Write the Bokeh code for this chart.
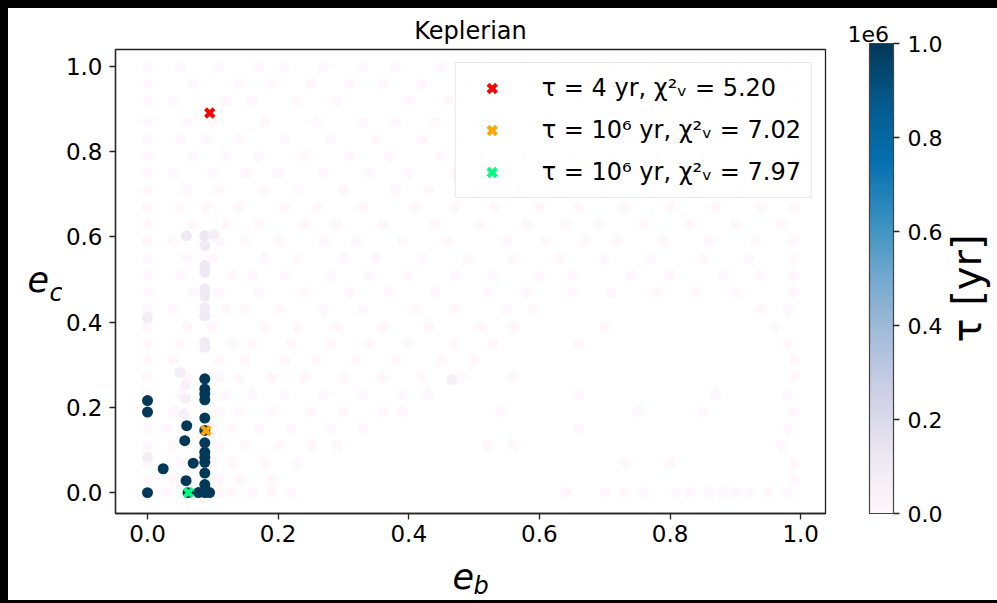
import numpy as np
from bokeh.plotting import figure
from bokeh.models import (LinearColorMapper, ColorBar, FixedTicker, CustomJSTickFormatter,
                          Legend, LegendItem, Range1d, NumeralTickFormatter, ColumnDataSource)
from bokeh.layouts import row, column
from bokeh.transform import transform
from bokeh.core.properties import value
from bokeh.embed import file_html
from bokeh.resources import INLINE

FONT = "DejaVu Sans"

# ---------------- data ----------------
# faint (tau ~ few yr) cloud: rows of e_c with the e_b positions seen on that row
bg_rows = [
    (1.00, [0.0, 0.05, 0.11, 0.17, 0.21, 0.27, 0.33, 0.38, 0.45, 0.52, 0.58, 0.63, 0.71, 0.77, 0.84, 0.91, 0.98]),
    (0.96, [0.0, 0.07, 0.14, 0.19, 0.25, 0.31, 0.36, 0.42, 0.49, 0.55, 0.61, 0.68, 0.74, 0.81, 0.88, 0.95, 0.99]),
    (0.92, [0.0, 0.04, 0.12, 0.16, 0.23, 0.29, 0.40, 0.46, 0.53, 0.57, 0.66, 0.72, 0.79, 0.86, 0.93, 0.99]),
    (0.87, [0.0, 0.06, 0.10, 0.18, 0.26, 0.33, 0.38, 0.44, 0.50, 0.59, 0.64, 0.70, 0.77, 0.83, 0.90, 0.97]),
    (0.83, [0.0, 0.05, 0.09, 0.14, 0.21, 0.28, 0.35, 0.42, 0.48, 0.55, 0.62, 0.68, 0.74, 0.81, 0.88, 0.94, 0.99]),
    (0.79, [0.0, 0.07, 0.12, 0.17, 0.24, 0.31, 0.37, 0.45, 0.51, 0.58, 0.65, 0.71, 0.78, 0.85, 0.92, 0.99]),
    (0.75, [0.0, 0.04, 0.10, 0.15, 0.20, 0.27, 0.34, 0.40, 0.47, 0.54, 0.60, 0.67, 0.75, 0.82, 0.89, 0.96]),
    (0.71, [0.0, 0.06, 0.11, 0.18, 0.23, 0.30, 0.38, 0.43, 0.50, 0.57, 0.63, 0.70, 0.77, 0.84, 0.91, 0.99]),
    (0.67, [0.0, 0.05, 0.09, 0.14, 0.21, 0.26, 0.33, 0.41, 0.47, 0.53, 0.60, 0.66, 0.73, 0.80, 0.87, 0.94, 0.99]),
    (0.63, [0.0, 0.07, 0.12, 0.17, 0.24, 0.29, 0.36, 0.44, 0.51, 0.58, 0.64, 0.69, 0.76, 0.83, 0.90, 0.97]),
    (0.59, [0.0, 0.04, 0.11, 0.15, 0.20, 0.27, 0.32, 0.39, 0.46, 0.55, 0.61, 0.67, 0.72, 0.79, 0.86, 0.93, 0.99]),
    (0.55, [0.0, 0.06, 0.10, 0.18, 0.23, 0.30, 0.35, 0.42, 0.49, 0.56, 0.63, 0.70, 0.77, 0.85, 0.92, 0.99]),
    (0.51, [0.0, 0.05, 0.13, 0.16, 0.21, 0.28, 0.34, 0.40, 0.47, 0.53, 0.60, 0.65, 0.74, 0.80, 0.88, 0.94, 0.99]),
    (0.47, [0.0, 0.07, 0.11, 0.17, 0.24, 0.31, 0.37, 0.44, 0.52, 0.58, 0.65, 0.71, 0.78, 0.84, 0.90, 0.99]),
    (0.43, [0.0, 0.04, 0.12, 0.15, 0.20, 0.27, 0.33, 0.41, 0.47, 0.55, 0.59, 0.94, 0.98]),
    (0.39, [0.0, 0.06, 0.10, 0.18, 0.23, 0.29, 0.36, 0.43, 0.51, 0.56, 0.70, 0.96]),
    (0.35, [0.0, 0.05, 0.13, 0.16, 0.22, 0.28, 0.34, 0.40, 0.47, 0.53, 0.66, 0.98]),
    (0.31, [0.0, 0.04, 0.11, 0.15, 0.21, 0.26, 0.32, 0.38, 0.45, 0.50, 0.99]),
    (0.27, [0.0, 0.06, 0.11, 0.14, 0.19, 0.24, 0.30, 0.36, 0.42, 0.48, 0.56, 0.99]),
    (0.23, [0.0, 0.05, 0.12, 0.16, 0.21, 0.27, 0.33, 0.39, 0.43, 0.66, 0.87, 0.98]),
    (0.19, [0.0, 0.04, 0.11, 0.14, 0.19, 0.25, 0.30, 0.36, 0.39, 0.54, 0.75, 0.85, 0.99]),
    (0.15, [0.0, 0.03, 0.10, 0.13, 0.17, 0.22, 0.28, 0.33, 0.66, 0.98]),
    (0.11, [0.0, 0.04, 0.11, 0.15, 0.20, 0.25, 0.29, 0.52, 0.56, 0.97]),
    (0.07, [0.0, 0.05, 0.10, 0.13, 0.18, 0.23, 0.73, 0.80, 0.99]),
    (0.03, [0.0, 0.04, 0.11, 0.14, 0.19, 0.99]),
    (0.00, [0.0, 0.03, 0.11, 0.13, 0.16, 0.19, 0.22, 0.64, 0.70, 0.73, 0.76, 0.81, 0.83, 0.86,
            0.88, 0.90, 0.92, 0.95, 0.98]),
]
BG_TAU = 50.0

# intermediate tau (lavender) points
mid_eb = [0.0877, 0.0877, 0.0877, 0.0877, 0.0877, 0.0877, 0.0877, 0.0877, 0.0877, 0.0877,
          0.0596, 0.101, 0.050, 0.058, 0.058, 0.056, 0.0, 0.0, 0.466]
mid_ec = [0.603, 0.580, 0.533, 0.517, 0.478, 0.462, 0.435, 0.415, 0.353, 0.341,
          0.603, 0.606, 0.282, 0.251, 0.221, 0.185, 0.083, 0.411, 0.265]
mid_tau = [1.2e5, 1.0e5, 1.2e5, 1.2e5, 1.1e5, 1.1e5, 0.9e5, 1.0e5, 0.9e5, 0.9e5,
           1.0e5, 0.6e5, 0.8e5, 0.5e5, 0.6e5, 0.6e5, 0.7e5, 0.8e5, 0.6e5]

# tau = 1e6 yr (dark) points
dark_eb = [0.0, 0.0, 0.0, 0.024, 0.060, 0.057, 0.070, 0.059, 0.062, 0.078,
           0.0877, 0.0877, 0.0877, 0.0877, 0.0877, 0.0877, 0.0877, 0.0877, 0.0877,
           0.0877, 0.0877, 0.0877, 0.0877, 0.095]
dark_ec = [0.216, 0.189, 0.0, 0.056, 0.157, 0.122, 0.069, 0.028, 0.0, 0.0,
           0.267, 0.243, 0.232, 0.218, 0.175, 0.146, 0.117, 0.095, 0.083,
           0.071, 0.046, 0.019, 0.0, 0.0]
dark_tau = [1.0e6] * len(dark_eb)

# best-fit markers
best_eb = [0.0953, 0.0897, 0.0627]
best_ec = [0.891, 0.1455, 0.0]
best_colors = ["#ff0000", "#ffa500", "#00ff7f"]
best_labels = ["τ = 4 yr, χ²ᵥ = 5.20",
               "τ = 10⁶ yr, χ²ᵥ = 7.02",
               "τ = 10⁶ yr, χ²ᵥ = 7.97"]

axis_ticks = [0.0, 0.2, 0.4, 0.6, 0.8, 1.0]
cbar_ticks = [0.0, 2e5, 4e5, 6e5, 8e5, 1e6]

title_text = "Keplerian"
x_label, x_sub = "e", "b"
y_label, y_sub = "e", "c"
cbar_label = "τ [yr]"
cbar_offset_text = "1e6"

# ---------------- build ----------------
bg_eb, bg_ec = [], []
for ec, xs in bg_rows:
    for eb in xs:
        bg_eb.append(eb)
        bg_ec.append(ec)
bg_tau = [BG_TAU] * len(bg_eb)

src = ColumnDataSource(dict(eb=bg_eb + mid_eb + dark_eb,
                            ec=bg_ec + mid_ec + dark_ec,
                            tau=bg_tau + mid_tau + dark_tau))

PUBU = ["#fff7fb", "#ece7f2", "#d0d1e6", "#a6bddb", "#74a9cf",
        "#3690c0", "#0570b0", "#045a8d", "#023858"]


def make_palette(stops, n=256):
    rgb = np.array([[int(c[i:i + 2], 16) for i in (1, 3, 5)] for c in stops], float)
    pos = np.linspace(0, 1, len(stops))
    out = []
    for t in np.linspace(0, 1, n):
        r, g, b = (int(round(np.interp(t, pos, rgb[:, k]))) for k in range(3))
        out.append("#%02x%02x%02x" % (r, g, b))
    return out


mapper = LinearColorMapper(palette=make_palette(PUBU), low=0, high=1e6)

TOP_H = 546   # height of the upper row (page y 8..554)
TOP_BOTTOM = 8 + TOP_H


def blank(width, height, xr, yr):
    f = figure(width=width, height=height, output_backend="svg", toolbar_location=None,
               x_range=Range1d(*xr), y_range=Range1d(*yr),
               x_axis_location=None, y_axis_location=None, frame_align=False,
               min_border_left=0, min_border_right=0, min_border_top=0, min_border_bottom=0)
    f.grid.visible = False
    f.outline_line_color = None
    f.background_fill_color = "white"
    f.border_fill_color = "white"
    return f


def add_text(f, x, y, txt, size, style="normal", angle=0.0, align="left"):
    f.text(x=[x], y=[y], text=[txt], text_font=value(FONT), text_font_size=value(size),
           text_font_style=style, text_color="black", angle=angle,
           text_align=align, text_baseline="middle")


# ---- main scatter panel ----
p = figure(width=783, height=TOP_H, output_backend="svg", toolbar_location=None,
           x_range=Range1d(-0.049, 1.038), y_range=Range1d(-0.049, 1.040),
           min_border_left=52, min_border_right=20, min_border_top=41, min_border_bottom=41,
           frame_align=False, title=title_text)
p.title.text_font = FONT
p.title.text_font_size = "24px"
p.title.text_font_style = "normal"
p.title.align = "center"
p.title.text_color = "black"
p.title.standoff = 10
p.grid.visible = False
p.outline_line_color = "#222222"
p.outline_line_width = 1.3
p.background_fill_color = "white"
p.border_fill_color = "white"

for ax in (p.xaxis[0], p.yaxis[0]):
    ax.ticker = FixedTicker(ticks=axis_ticks)
    ax.formatter = NumeralTickFormatter(format="0.0")
    ax.major_label_text_font = FONT
    ax.major_label_text_font_size = "23px"
    ax.major_label_text_color = "black"
    ax.major_tick_out = 6
    ax.major_tick_in = 0
    ax.minor_tick_out = 0
    ax.minor_tick_in = 0
    ax.major_tick_line_width = 1.3
    ax.major_tick_line_color = "#222222"
    ax.axis_line_color = "#222222"
    ax.axis_line_width = 1.3
p.xaxis[0].major_label_standoff = 5
p.yaxis[0].major_label_standoff = 7

p.scatter(x="eb", y="ec", source=src, size=11,
          fill_color=transform("tau", mapper), line_color=None)

items = []
for eb, ec, col, lab in zip(best_eb, best_ec, best_colors, best_labels):
    r = p.scatter(x=[eb], y=[ec], marker="x", size=12, line_width=4, line_color=col)
    items.append(LegendItem(label=lab, renderers=[r]))

legend = Legend(items=items, location="top_right", margin=13, padding=10, spacing=12,
                glyph_width=52, glyph_height=30, label_standoff=24,
                label_text_font=FONT, label_text_font_size="24px", label_text_color="black",
                border_line_color="#d0d0d0", border_line_width=1,
                background_fill_color="white", background_fill_alpha=0.8)
p.add_layout(legend)

# ---- y label panel (page x 8..62, y 8..554) ----
ylab = blank(54, TOP_H, (8, 62), (TOP_BOTTOM, 8))
add_text(ylab, 27, 278, y_label, "35px", "italic")
add_text(ylab, 49, 292, y_sub, "24px", "italic")

# ---- colour bar panel (page x 845..997, y 8..554) ----
cb = blank(152, TOP_H, (845, 997), (TOP_BOTTOM, 8))
color_bar = ColorBar(color_mapper=mapper, location=(24, TOP_BOTTOM - 513), width=24, height=470,
                     padding=0, margin=0, title=None,
                     ticker=FixedTicker(ticks=cbar_ticks),
                     formatter=CustomJSTickFormatter(code="return (tick / 1e6).toFixed(1);"),
                     major_label_text_font=FONT, major_label_text_font_size="22px",
                     major_label_text_color="black",
                     major_tick_out=6, major_tick_in=0, major_tick_line_color="#222222",
                     major_tick_line_width=1.3, label_standoff=8,
                     bar_line_color="#444444", bar_line_width=1.2,
                     background_fill_color="white", border_line_color=None)
cb.add_layout(color_bar)
add_text(cb, 847, 33, cbar_offset_text, "22px")
add_text(cb, 966, 288, cbar_label, "40px", angle=np.pi / 2, align="center")

# ---- x label panel (page x 8..997, y 554..600) ----
xlab = blank(989, 46, (8, 997), (600, TOP_BOTTOM))
add_text(xlab, 452, 575, x_label, "35px", "italic")
add_text(xlab, 473, 585, x_sub, "24px", "italic")

layout = column(row(ylab, p, cb, styles={"background-color": "#ffffff"}), xlab,
                styles={"background-color": "#ffffff"})
html = file_html(layout, INLINE)
html = html.replace("</head>",
                    "<style>body{background-color:#000000; padding:8px 0 0 8px !important;}</style></head>", 1)
open("out.html", "w").write(html)
